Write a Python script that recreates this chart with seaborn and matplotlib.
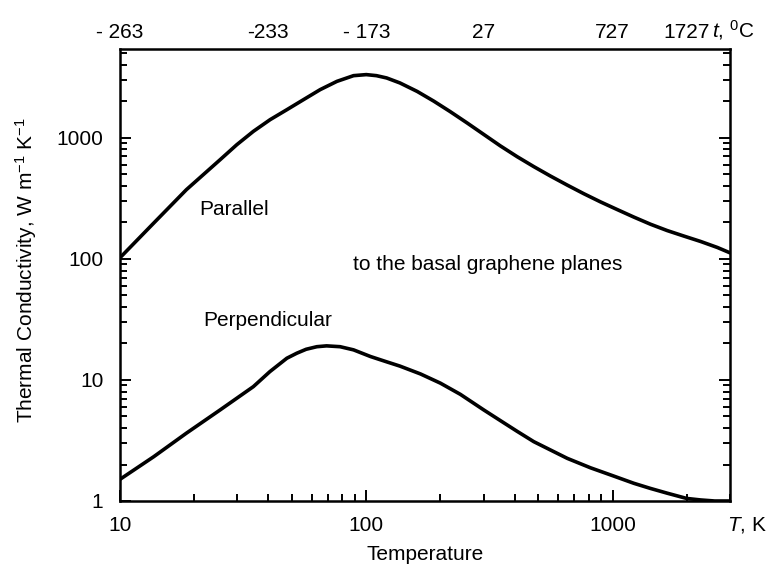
import matplotlib
matplotlib.use("Agg")
import matplotlib.pyplot as plt
import numpy as np
import pandas as pd
import seaborn as sns
from matplotlib.ticker import LogLocator, NullFormatter, FixedLocator, FixedFormatter, NullLocator

# ---- data ----
T_par = [10, 13.7, 18.6, 25.5, 29.8, 34.8, 40.7, 47.6, 55.6, 65, 76, 88.8, 100, 110, 121, 137, 161, 188,
         219, 257, 300, 350, 410, 479, 560, 655, 764, 894, 1045, 1221, 1426, 1668, 1950, 2280, 2666, 3000]
k_par = [102, 197, 372, 658, 875, 1128, 1409, 1703, 2061, 2494, 2918, 3253, 3318, 3253, 3114, 2832, 2410, 2004,
         1644, 1322, 1064, 857, 697, 577, 482, 406, 345, 295, 255, 221, 193, 171, 154, 139, 124, 112]

T_perp = [10, 13.7, 18.6, 25.5, 34.8, 40.6, 47.6, 52.2, 57, 63, 69, 78.3, 88.8, 104, 121, 137, 166, 200,
          241, 300, 350, 410, 479, 655, 814, 1000, 1221, 1426, 1668, 2000, 2280, 2600, 3000]
k_perp = [1.51, 2.32, 3.63, 5.65, 8.8, 11.7, 15.1, 16.6, 17.9, 18.8, 19.1, 18.8, 17.7, 15.6, 14.1, 13.0, 11.2, 9.4,
          7.6, 5.65, 4.62, 3.76, 3.09, 2.25, 1.88, 1.62, 1.40, 1.27, 1.16, 1.05, 1.02, 1.0, 1.0]

x_ticks = [10, 100, 1000]
x_ticklabels = ["10", "100", "1000"]
y_ticks = [1, 10, 100, 1000]
y_ticklabels = ["1", "10", "100", "1000"]
top_ticks = [10, 40, 100, 300, 1000, 2000]
top_ticklabels = ["- 263", "-233", "- 173", "27", "727", "1727"]

# ---- style ----
sns.set_theme(style="ticks")
plt.rcParams["font.family"] = ["Liberation Sans", "DejaVu Sans"]
plt.rcParams.update({
    "mathtext.fontset": "custom",
    "mathtext.rm": "Liberation Sans",
    "mathtext.it": "Liberation Sans:italic",
    "mathtext.sf": "Liberation Sans",
    "font.size": 15,
    "axes.edgecolor": "black",
    "xtick.color": "black",
    "ytick.color": "black",
    "text.color": "black",
    "axes.labelcolor": "black",
})

df = pd.concat([
    pd.DataFrame({"T": T_par, "k": k_par, "series": "Parallel"}),
    pd.DataFrame({"T": T_perp, "k": k_perp, "series": "Perpendicular"}),
], ignore_index=True)

fig = plt.figure(figsize=(7.66, 5.71), dpi=100)
ax = fig.add_axes([120 / 766, 70 / 571, 610 / 766, 452 / 571])

sns.lineplot(data=df, x="T", y="k", hue="series", palette=["black", "black"],
             estimator=None, sort=False, linewidth=2.6, legend=False, ax=ax)
for ln in ax.lines:
    ln.set_solid_joinstyle("round")
    ln.set_solid_capstyle("round")

ax.set_xscale("log")
ax.set_yscale("log")
ax.set_xlim(10, 3000)
ax.set_ylim(1, 5400)

ax.xaxis.set_major_locator(FixedLocator(x_ticks))
ax.xaxis.set_major_formatter(FixedFormatter(x_ticklabels))
ax.yaxis.set_major_locator(FixedLocator(y_ticks))
ax.yaxis.set_major_formatter(FixedFormatter(y_ticklabels))
ax.xaxis.set_minor_locator(LogLocator(base=10, subs=np.arange(2, 10)))
ax.yaxis.set_minor_locator(LogLocator(base=10, subs=np.arange(2, 10)))
ax.xaxis.set_minor_formatter(NullFormatter())
ax.yaxis.set_minor_formatter(NullFormatter())

ax.tick_params(which="both", direction="in", top=True, right=True, width=1.4, labelsize=15)
ax.tick_params(which="major", length=8)
ax.tick_params(which="minor", length=5)
ax.tick_params(axis="x", which="major", pad=11)
ax.tick_params(axis="y", which="major", pad=12)
for s in ax.spines.values():
    s.set_linewidth(1.8)
    s.set_color("black")

# top Celsius labels
ax2 = ax.twiny()
ax2.set_xscale("log")
ax2.set_xlim(ax.get_xlim())
ax2.xaxis.set_major_locator(FixedLocator(top_ticks))
ax2.xaxis.set_major_formatter(FixedFormatter(top_ticklabels))
ax2.xaxis.set_minor_locator(NullLocator())
ax2.tick_params(axis="x", which="both", length=0, pad=5, labelsize=15)
for s in ax2.spines.values():
    s.set_visible(False)

ax.set_xlabel("Temperature", fontsize=15)
ax.xaxis.set_label_coords(0.5, (501 - 545) / 452)
ax.set_ylabel("Thermal Conductivity, W m$^{-1}$ K$^{-1}$", fontsize=15)
ax.yaxis.set_label_coords((39 - 120) / 610, 0.51)

ax.text(1.0 - 3 / 610, (501 - 525) / 452, "$T$, K", transform=ax.transAxes,
        ha="left", va="center", fontsize=15)
ax.text((712 - 120) / 610, (501 - 37) / 452, "$t$, $^{0}$C", transform=ax.transAxes,
        ha="left", va="baseline", fontsize=15)

ax.text(20.9, 254, "Parallel", ha="left", va="center", fontsize=15)
ax.text(88.5, 89, "to the basal graphene planes", ha="left", va="center", fontsize=15)
ax.text(21.7, 31, "Perpendicular", ha="left", va="center", fontsize=15)

fig.savefig("out.png", dpi=100)
